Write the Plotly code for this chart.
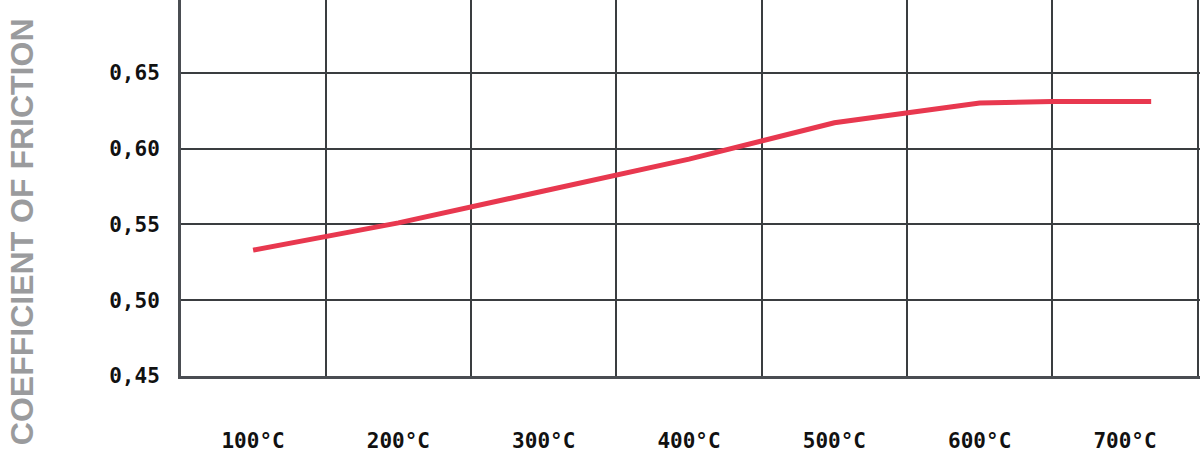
import plotly.graph_objects as go

# temperature (°C) and coefficient of friction
temperature = [100, 200, 300, 400, 500, 600, 650, 718]
friction = [0.533, 0.551, 0.572, 0.593, 0.617, 0.630, 0.631, 0.631]

tick_temps = [100, 200, 300, 400, 500, 600, 700]
tick_labels = ["100°C", "200°C", "300°C", "400°C", "500°C", "600°C", "700°C"]
y_ticks = [0.45, 0.50, 0.55, 0.60, 0.65]

mono = dict(family="DejaVu Sans Mono", size=21, color="#111111", weight="bold")

fig = go.Figure()
fig.add_trace(go.Scatter(
    x=temperature, y=friction, mode="lines",
    line=dict(color="#e8384f", width=5),
    hoverinfo="skip",
))

fig.update_xaxes(
    range=[50.4, 751.6], automargin=False,
    tickmode="array", tickvals=tick_temps, ticktext=tick_labels,
    showgrid=False, zeroline=False,
    showline=True, linecolor="#4a4d52", linewidth=3,
    ticks="", ticklabelstandoff=44, tickfont=mono,
    minor=dict(tickmode="linear", tick0=50, dtick=100, showgrid=True,
               gridcolor="#3a3d40", gridwidth=2, ticks=""),
)
fig.update_yaxes(
    range=[0.45, 0.698], automargin=False,
    tickmode="array", tickvals=y_ticks, tickformat=".2f",
    showgrid=True, gridcolor="#3a3d40", gridwidth=2, zeroline=False,
    showline=True, linecolor="#4a4d52", linewidth=3,
    ticks="", ticklabelstandoff=14, tickfont=mono,
)

fig.add_annotation(
    text="COEFFICIENT OF FRICTION", textangle=-90,
    xref="paper", yref="paper", x=-0.1565, y=0.384,
    xanchor="center", yanchor="middle", showarrow=False,
    font=dict(family="Liberation Sans", size=32, color="#9a9b9d", weight="bold"),
)

fig.update_layout(
    width=1200, height=454,
    margin=dict(l=181, r=0, t=0, b=78),
    plot_bgcolor="white", paper_bgcolor="white",
    separators=",.",
    showlegend=False,
)

# drop the page's default body margin so the chart sits at the window corner
fig.write_html("out.html", config={"displayModeBar": False},
               post_script="document.body.style.margin='0';")
